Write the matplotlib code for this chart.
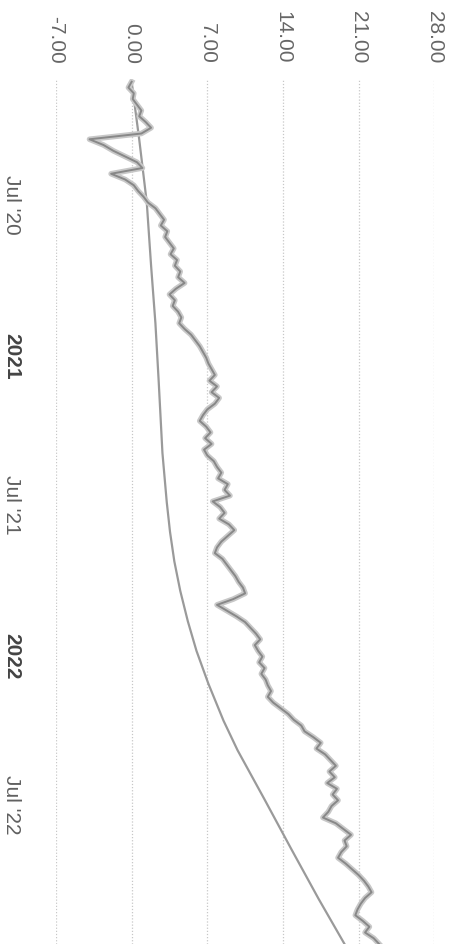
import matplotlib
matplotlib.use('Agg')
import matplotlib.pyplot as plt
import pandas as pd

plt.rcParams['font.family'] = ['Liberation Sans', 'DejaVu Sans']

# value axis ticks (drawn across the top, the chart is turned on its side)
value_ticks = [-7, 0, 7, 14, 21, 28]

# date axis ticks
date_ticks = ['2020-07-01', '2021-01-01', '2021-07-01', '2022-01-01', '2022-07-01']
date_labels = ["Jul '20", '2021', "Jul '21", '2022', "Jul '22"]
bold_labels = ['2021', '2022']

# weekly readings of the jagged series, starting 2020-02-03
noisy_start = '2020-02-03'
noisy_vals = [
    0.0, -0.3, 0.2, 0.1, 0.5, 0.9, 0.7, 1.3, 1.8, 0.9,
    -3.9, -2.6, -1.7, -0.6, 0.5, 1.0, -1.9, -0.6, 0.2, 0.6,
    1.1, 1.5, 2.2, 2.6, 3.0, 2.7, 3.3, 3.1, 3.5, 3.9,
    3.6, 4.2, 4.0, 4.5, 4.3, 4.9, 4.1, 3.5, 4.0, 3.8,
    4.3, 4.6, 4.4, 4.9, 5.5, 5.9, 6.3, 6.6, 6.9, 7.1,
    7.4, 7.7, 7.2, 7.9, 7.4, 8.1, 7.7, 7.0, 6.6, 6.3,
    6.9, 7.3, 6.8, 7.4, 6.7, 7.0, 7.6, 7.9, 8.3, 8.0,
    8.9, 8.6, 9.1, 7.5, 8.2, 8.6, 8.1, 9.0, 9.5, 8.9,
    8.3, 7.9, 7.7, 8.4, 8.8, 9.2, 9.6, 9.9, 10.3, 10.5,
    9.4, 7.9, 8.8, 9.7, 10.5, 11.0, 11.5, 11.9, 11.4, 11.7,
    12.1, 11.8, 12.3, 12.0, 12.4, 12.6, 12.9, 12.6, 13.1, 13.8,
    14.5, 15.0, 15.7, 16.0, 16.8, 17.5, 17.1, 17.9, 18.4, 18.9,
    18.3, 18.8, 18.1, 19.0, 18.6, 19.1, 18.5, 18.2, 17.7, 18.9,
    19.6, 20.3, 19.7, 19.9, 19.4, 19.1, 19.8, 20.4, 21.0, 21.5,
    21.9, 22.2, 21.6, 21.2, 20.9, 20.7, 21.4, 22.0, 21.6, 22.4,
    22.9,
]

# smooth benchmark curve
smooth_dates = ['2020-02-03', '2020-04-13', '2020-06-29', '2020-09-14', '2020-11-23',
                '2021-02-01', '2021-04-30', '2021-06-29', '2021-08-04', '2021-09-09',
                '2021-10-15', '2021-11-21', '2021-12-27', '2022-02-05', '2022-03-22',
                '2022-04-27', '2022-06-26', '2022-08-26', '2022-10-25', '2022-12-19']
smooth_vals = [0.0, 0.7, 1.4, 1.8, 2.2,
               2.5, 2.85, 3.25, 3.55, 3.95,
               4.5, 5.2, 6.0, 7.1, 8.5,
               9.8, 12.3, 14.8, 17.3, 19.7]

noisy_dates = pd.date_range(noisy_start, periods=len(noisy_vals), freq='7D')

fig = plt.figure(figsize=(4.59, 9.45), dpi=100)
ax = fig.add_axes([0.122, 0.0, 0.824, 0.915])

# dotted gridlines
for v in value_ticks:
    ax.axvline(v, color='#c8c8c8', lw=0.9, ls=(0, (1, 1.5)), zorder=0)

ax.plot(smooth_vals, pd.to_datetime(smooth_dates), color='#9a9a9a', lw=1.6, zorder=2)
ax.plot(noisy_vals, noisy_dates, color='#c8c8c8', lw=4.0, zorder=3)
ax.plot(noisy_vals, noisy_dates, color='#888888', lw=1.4, zorder=4)

ax.set_xlim(-7, 28)
ax.set_ylim(pd.Timestamp('2022-12-19'), pd.Timestamp('2020-01-31'))

ax.xaxis.tick_top()
ax.set_xticks(value_ticks)
ax.set_xticklabels(['%.2f' % v for v in value_ticks], rotation=-90,
                   fontsize=15, color='#666666')
ax.tick_params(axis='x', length=0, pad=12)

ax.set_yticks(pd.to_datetime(date_ticks))
ax.set_yticklabels(date_labels, rotation=-90, fontsize=15, color='#606060', va='center')
for lab in ax.get_yticklabels():
    if lab.get_text() in bold_labels:
        lab.set_fontweight('bold')
        lab.set_color('#444444')
ax.tick_params(axis='y', length=0, pad=25)

for s in ax.spines.values():
    s.set_visible(False)

fig.savefig('out.png', dpi=100, facecolor='white')
